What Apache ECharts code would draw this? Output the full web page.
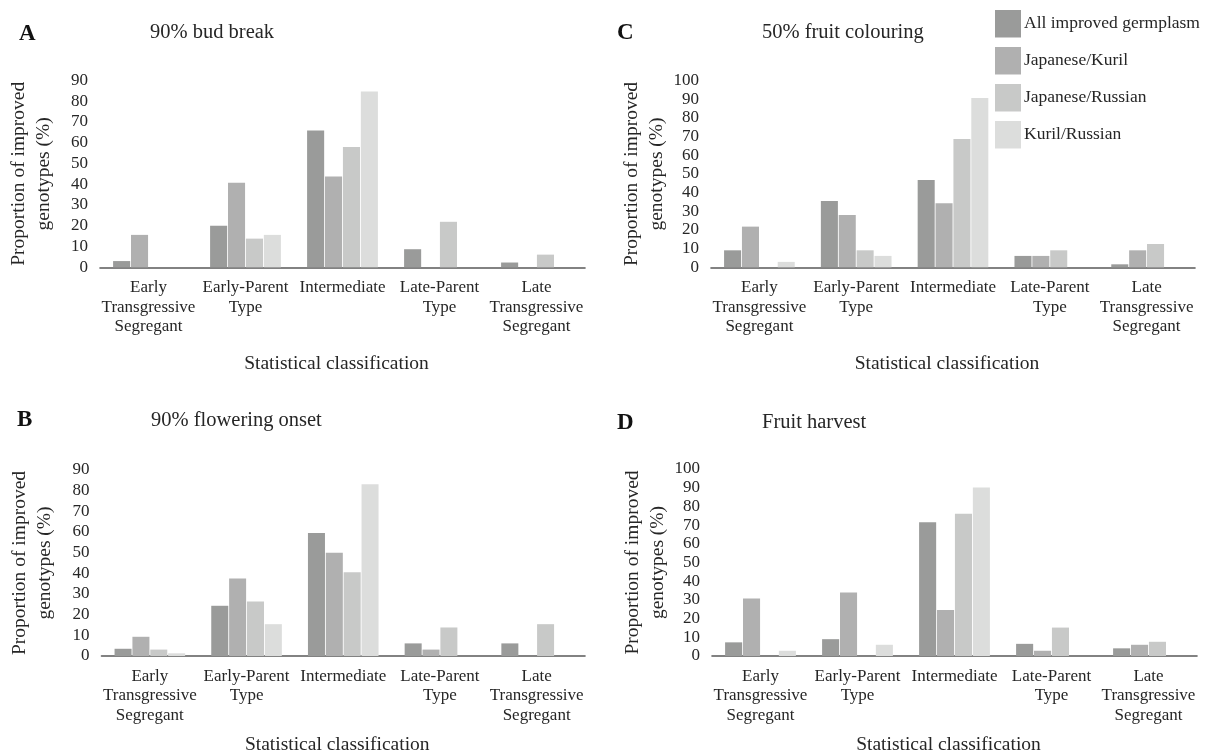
<!DOCTYPE html>
<html><head><meta charset="utf-8">
<script src="https://cdn.jsdelivr.net/npm/echarts@6/dist/echarts.min.js"></script>
<style>html,body{margin:0;padding:0;background:#fff}#c{width:1211px;height:756px}</style>
</head><body><div id="c"></div>
<script>
const categories = ['Early\nTransgressive\nSegregant','Early-Parent\nType','Intermediate','Late-Parent\nType','Late\nTransgressive\nSegregant'];
const seriesNames = ['All improved germplasm','Japanese/Kuril','Japanese/Russian','Kuril/Russian'];
const panelLetters = ['A','B','C','D'];
const panelTitles = ['90% bud break','90% flowering onset','50% fruit colouring','Fruit harvest'];
const yMaxes = [90, 90, 100, 100];
const yInterval = 10;

const budAll = [3, 20, 65.8, 8.7, 2.3];
const budJK  = [15.6, 40.7, 43.7, 0, 0];
const budJR  = [0, 13.8, 57.9, 21.9, 6.1];
const budKR  = [0, 15.6, 84.6, 0, 0];

const flowAll = [3.5, 24.3, 59.5, 6.1, 6.1];
const flowJK  = [9.3, 37.5, 50, 3.1, 0];
const flowJR  = [3.1, 26.4, 40.5, 13.8, 15.4];
const flowKR  = [1.3, 15.4, 83.1, 0, 0];

const colAll = [9.1, 35.5, 46.8, 6.1, 1.6];
const colJK  = [21.8, 28, 34.3, 6.1, 9.1];
const colJR  = [0, 9.1, 68.8, 9.1, 12.5];
const colKR  = [2.9, 6.1, 90.7, 0, 0];

const harvAll = [7.3, 9.0, 71.5, 6.5, 4.1];
const harvJK  = [30.8, 34, 24.6, 2.8, 6.0];
const harvJR  = [0, 0, 76.1, 15.2, 7.6];
const harvKR  = [2.8, 6.0, 90.1, 0, 0];

const panelData = [
  [budAll, budJK, budJR, budKR],
  [flowAll, flowJK, flowJR, flowKR],
  [colAll, colJK, colJR, colKR],
  [harvAll, harvJK, harvJR, harvKR]
];

const colors = ['#9a9b9a','#b0b0b0','#c8c9c8','#dcdddc'];
const FONT = 'Liberation Serif';
const TXT = '#262626';

const grids = [
  {left: 100, top: 80.3, width: 485, height: 187},
  {left: 101.5, top: 470, width: 483.5, height: 186.7},
  {left: 711, top: 80.7, width: 484, height: 186.6},
  {left: 712, top: 469, width: 485, height: 187.7}
];
const letterPos = [{left: 19, top: 21},{left: 17, top: 407},{left: 617, top: 20},{left: 617, top: 410}];
const titlePos = [{left: 150, top: 21},{left: 151, top: 409},{left: 762, top: 21},{left: 762, top: 411}];
const xNameGaps = [87, 79, 87, 79];
const yNameGaps = [44, 44, 42, 42];

const titles = [];
for (let i = 0; i < 4; i++) {
  titles.push({text: panelLetters[i], left: letterPos[i].left, top: letterPos[i].top, padding: 0,
    textStyle: {fontFamily: FONT, fontSize: 23, fontWeight: 'bold', color: '#111', lineHeight: 26}});
  titles.push({text: panelTitles[i], left: titlePos[i].left, top: titlePos[i].top, padding: 0,
    textStyle: {fontFamily: FONT, fontSize: 20.5, fontWeight: 'normal', color: TXT, lineHeight: 24}});
}

const xAxes = [], yAxes = [], series = [];
for (let i = 0; i < 4; i++) {
  xAxes.push({
    type: 'category', gridIndex: i, data: categories,
    axisLine: {lineStyle: {color: '#595959', width: 1.6}},
    axisTick: {show: false},
    axisLabel: {interval: 0, color: TXT, fontFamily: FONT, fontSize: 17, lineHeight: 19.3, margin: 11},
    name: 'Statistical classification', nameLocation: 'middle', nameGap: xNameGaps[i],
    nameTextStyle: {color: TXT, fontFamily: FONT, fontSize: 19.5, padding: [0, 12, 0, 0]}
  });
  yAxes.push({
    type: 'value', gridIndex: i, min: 0, max: yMaxes[i], interval: yInterval,
    axisLine: {show: false}, axisTick: {show: false}, splitLine: {show: false},
    axisLabel: {color: TXT, fontFamily: FONT, fontSize: 17, margin: 12},
    name: 'Proportion of improved\ngenotypes (%)', nameLocation: 'middle', nameRotate: 90, nameGap: yNameGaps[i],
    nameTextStyle: {color: TXT, fontFamily: FONT, fontSize: 19.5, lineHeight: 25}
  });
  for (let s = 0; s < 4; s++) {
    series.push({
      type: 'bar', name: seriesNames[s], xAxisIndex: i, yAxisIndex: i,
      data: panelData[i][s], barGap: '5%', barCategoryGap: '27%',
      itemStyle: {color: colors[s]},
      emphasis: {disabled: true}, animation: false
    });
  }
}

const chart = echarts.init(document.getElementById('c'), null, {renderer: 'canvas'});
chart.setOption({
  backgroundColor: '#fff',
  animation: false,
  title: titles,
  legend: {
    data: seriesNames, orient: 'vertical', left: 995, top: 10, padding: 0,
    icon: 'rect', itemWidth: 26, itemHeight: 27.5, itemGap: 9.5,
    textStyle: {color: TXT, fontFamily: FONT, fontSize: 17.5, padding: [0, 0, 0, -2]}
  },
  grid: grids,
  xAxis: xAxes,
  yAxis: yAxes,
  series: series
});
</script></body></html>
